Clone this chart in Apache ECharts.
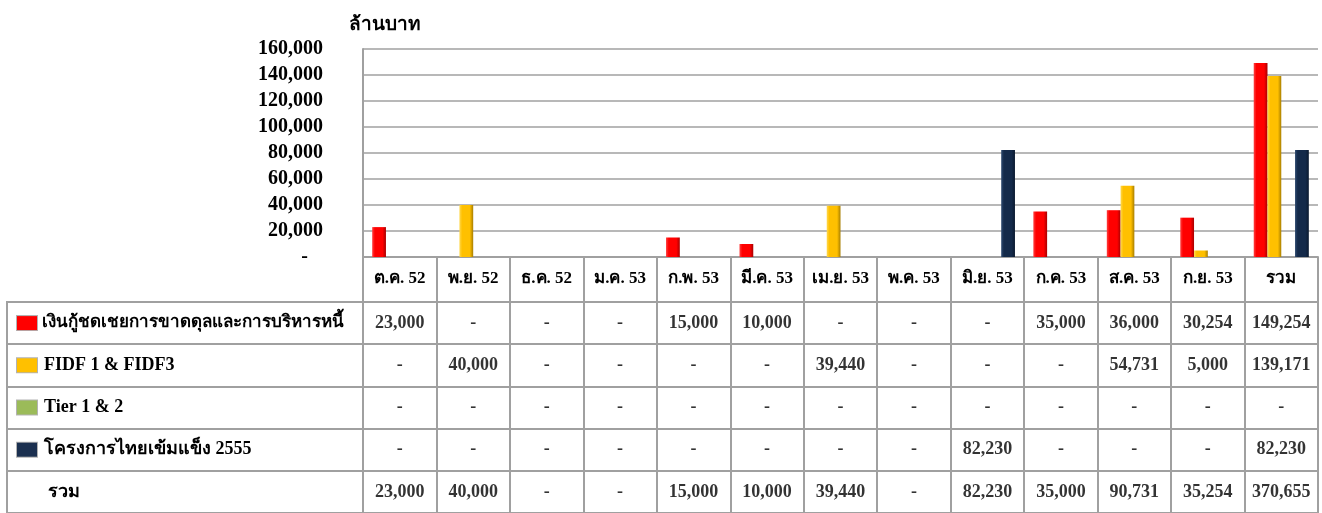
<!DOCTYPE html>
<html lang="th">
<head>
<meta charset="UTF-8">
<title>Chart</title>
<script src="https://cdn.jsdelivr.net/npm/echarts@6/dist/echarts.min.js"></script>
<style>
  html, body { margin: 0; padding: 0; background: #fff; }
  #main { width: 1322px; height: 513px; }
</style>
</head>
<body>
<div id="main"></div>
<script>
// data
var months = ['ต.ค. 52', 'พ.ย. 52', 'ธ.ค. 52', 'ม.ค. 53', 'ก.พ. 53', 'มี.ค. 53', 'เม.ย. 53', 'พ.ค. 53', 'มิ.ย. 53', 'ก.ค. 53', 'ส.ค. 53', 'ก.ย. 53', 'รวม']
var seriesNames = ['เงินกู้ชดเชยการขาดดุลและการบริหารหนี้', 'FIDF 1 & FIDF3', 'Tier 1 & 2', 'โครงการไทยเข้มแข็ง 2555']
var loanVals = [23000, 0, 0, 0, 15000, 10000, 0, 0, 0, 35000, 36000, 30254, 149254]
var fidfVals = [0, 40000, 0, 0, 0, 0, 39440, 0, 0, 0, 54731, 5000, 139171]
var tierVals = [0, 0, 0, 0, 0, 0, 0, 0, 0, 0, 0, 0, 0]
var thaiVals = [0, 0, 0, 0, 0, 0, 0, 0, 82230, 0, 0, 0, 82230]
var totalVals = [23000, 40000, 0, 0, 15000, 10000, 39440, 0, 82230, 35000, 90731, 35254, 370655]
var totalName = 'รวม'
var yTicks = [0, 20000, 40000, 60000, 80000, 100000, 120000, 140000, 160000]

var font = '"Liberation Serif", "Times New Roman", serif'
var lineGray = '#a0a0a0'

// flat + dark edge look like the excel bars
var barColors = [
    ['#ff4040', '#ff0000', '#a80000'],
    ['#ffd84d', '#ffc000', '#a87e00'],
    ['#bcd685', '#9bbb59', '#6b8538'],
    ['#2e4a70', '#142a4a', '#0b1a30']
]
var iconColors = ['#ff0000', '#ffc000', '#9bbb59', '#1b3050']

function fmt(v) {
    if (!v) return '-'
    return v.toLocaleString('en-US')
}

function grad(c) {
    return new echarts.graphic.LinearGradient(0, 0, 1, 0, [
        { offset: 0, color: c[0] },
        { offset: 0.2, color: c[1] },
        { offset: 0.75, color: c[1] },
        { offset: 1, color: c[2] }
    ])
}

var allVals = [loanVals, fidfVals, tierVals, thaiVals]
var rowVals = [loanVals, fidfVals, tierVals, thaiVals, totalVals]
var rowNames = seriesNames.concat([totalName])

var barSeries = allVals.map(function (vals, i) {
    return {
        name: seriesNames[i],
        type: 'bar',
        xAxisIndex: 0,
        yAxisIndex: 0,
        barGap: '0%',
        barCategoryGap: '25%',
        itemStyle: { color: grad(barColors[i]) },
        data: vals.map(function (v) { return v ? v : '-' })
    }
})

// table cells as scatter labels on the table grid
var cellData = []
rowVals.forEach(function (vals, r) {
    vals.forEach(function (v, c) {
        cellData.push([c, r, v])
    })
})

var rich = {
    t: { fontFamily: font, fontWeight: 'bold', fontSize: 18, color: '#000', padding: [0, 0, 0, 7] },
    // the long thai name has to fit in the cell
    tl: { fontFamily: font, fontWeight: 'bold', fontSize: 17, color: '#000', padding: [0, 0, 0, 5] },
    s: { width: 24, height: 14 }
}
iconColors.forEach(function (c, i) {
    rich['i' + i] = { width: 20, height: 14, backgroundColor: c, borderColor: 'rgba(0,0,0,0.3)', borderWidth: 1 }
})

var option = {
    animation: false,
    title: {
        text: 'ล้านบาท',
        left: 344,
        top: 11,
        textStyle: { fontFamily: font, fontWeight: 'bold', fontSize: 19, color: '#000' }
    },
    grid: [
        { left: 363, top: 49, width: 955, height: 208 },
        { left: 363, top: 302, width: 955, height: 216, show: true, borderColor: lineGray, borderWidth: 2 },
        { left: 7, top: 302, width: 356, height: 216, show: true, borderColor: lineGray, borderWidth: 2 }
    ],
    xAxis: [
        {
            type: 'category', gridIndex: 0, data: months,
            axisLine: { lineStyle: { color: lineGray, width: 2 } },
            axisTick: { show: true, length: 45, lineStyle: { color: lineGray, width: 2 } },
            axisLabel: { interval: 0, margin: 13, fontFamily: font, fontWeight: 'bold', fontSize: 17, color: '#000' }
        },
        {
            type: 'category', gridIndex: 1, data: months,
            axisLine: { show: false }, axisTick: { show: false }, axisLabel: { show: false },
            splitLine: { show: true, interval: 0, lineStyle: { color: lineGray, width: 2 } }
        },
        {
            type: 'value', gridIndex: 2, min: 0, max: 1,
            axisLine: { show: false }, axisTick: { show: false }, axisLabel: { show: false }, splitLine: { show: false }
        }
    ],
    yAxis: [
        {
            type: 'value', gridIndex: 0, min: 0, max: 160000, interval: 20000,
            axisLine: { show: true, lineStyle: { color: lineGray, width: 2 } },
            axisTick: { show: false },
            splitLine: { lineStyle: { color: lineGray, width: 1.5 } },
            axisLabel: {
                margin: 40, fontFamily: font, fontWeight: 'bold', fontSize: 20, color: '#000',
                formatter: function (v) {
                    if (yTicks.indexOf(v) < 0) return ''
                    return v ? fmt(v) : '-   '
                }
            }
        },
        {
            type: 'category', gridIndex: 1, inverse: true, data: rowNames,
            axisLine: { show: false }, axisTick: { show: false },
            splitLine: { show: true, interval: 0, lineStyle: { color: lineGray, width: 2 } },
            axisLabel: {
                interval: 0, align: 'left', margin: 346, rich: rich,
                formatter: function (v, i) {
                    if (i == 0) return '{i0|}{tl|' + v + '}'
                    if (i < iconColors.length) return '{i' + i + '|}{t|' + v + '}'
                    return '{s|}{t|' + v + '}'
                }
            }
        },
        {
            type: 'category', gridIndex: 2, inverse: true, data: rowNames,
            axisLine: { show: false }, axisTick: { show: false }, axisLabel: { show: false },
            splitLine: { show: true, interval: 0, lineStyle: { color: lineGray, width: 2 } }
        }
    ],
    series: barSeries.concat([
        {
            type: 'scatter',
            xAxisIndex: 1,
            yAxisIndex: 1,
            symbolSize: 0,
            silent: true,
            label: {
                show: true, position: 'inside',
                fontFamily: font, fontWeight: 'bold', fontSize: 18, color: '#000',
                formatter: function (p) { return fmt(p.value[2]) }
            },
            data: cellData
        }
    ])
}

var chart = echarts.init(document.getElementById('main'))
chart.setOption(option)
</script>
</body>
</html>
